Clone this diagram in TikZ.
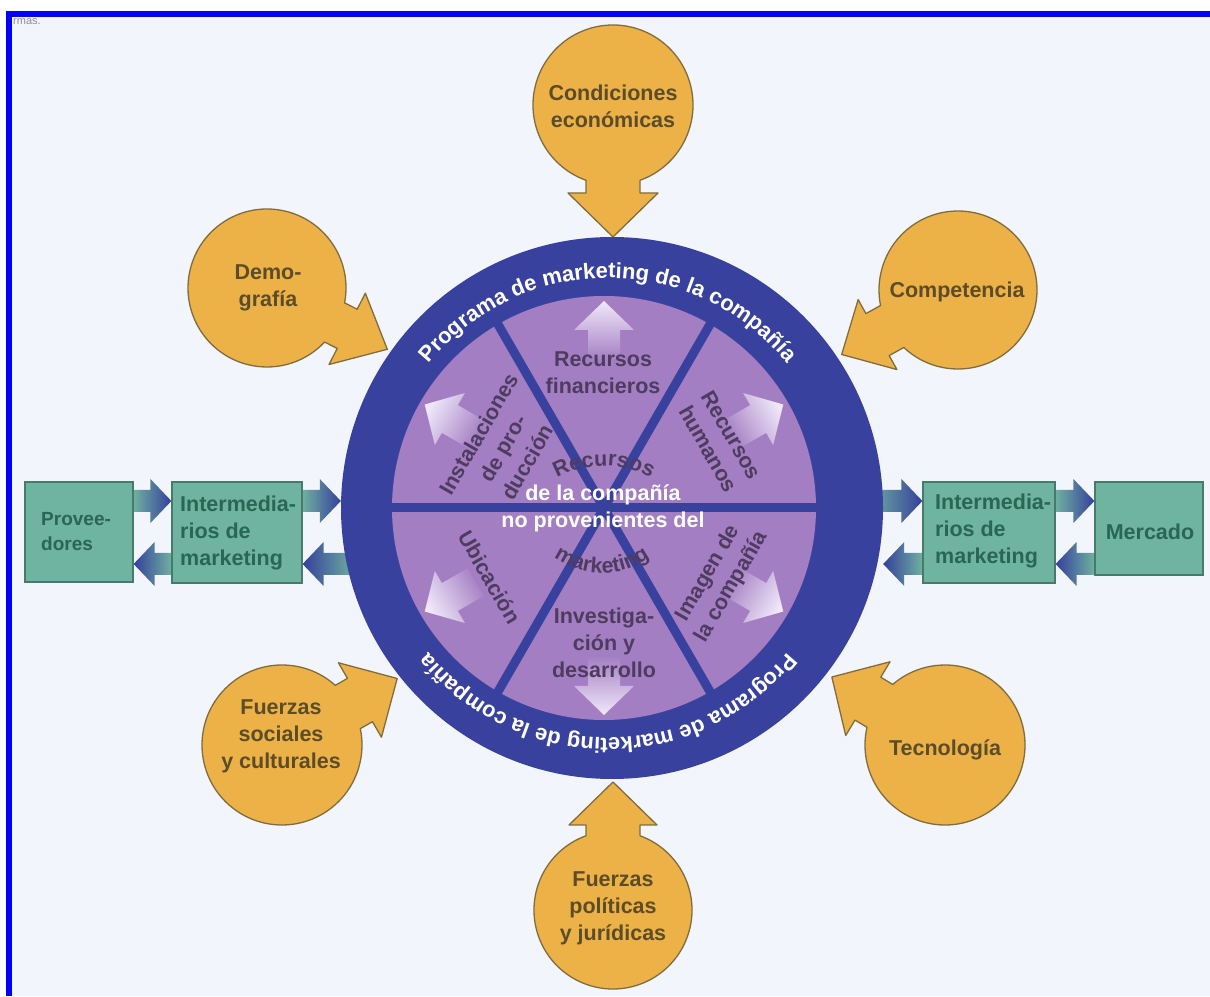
\documentclass[tikz,border=0pt]{standalone}
\usepackage{fontspec}
\setmainfont{Liberation Sans}
\usetikzlibrary{decorations.text,calc}
\definecolor{ringblue}{RGB}{56,66,158}
\definecolor{purp}{RGB}{164,126,194}
\definecolor{purplight}{RGB}{240,232,250}
\definecolor{sectxt}{RGB}{78,60,96}
\definecolor{orng}{RGB}{236,178,72}
\definecolor{orngline}{RGB}{128,108,62}
\definecolor{orngtxt}{RGB}{92,76,40}
\definecolor{gbox}{RGB}{110,180,160}
\definecolor{gboxline}{RGB}{72,122,106}
\definecolor{gtxt}{RGB}{42,102,82}
\definecolor{arrteal}{RGB}{112,176,160}
\definecolor{arrblue}{RGB}{52,64,156}
\definecolor{bgcol}{RGB}{243,245,252}
\definecolor{frameblue}{RGB}{0,0,250}
\pgfdeclarelayer{bglayer}
\pgfdeclarelayer{arrlayer}
\pgfsetlayers{bglayer,arrlayer,main}
\tikzset{
  lbl/.style={font=\bfseries\fontsize{21.5}{27}\selectfont, align=center, inner sep=0pt},
  orlbl/.style={lbl, text=orngtxt},
  seclbl/.style={lbl, text=sectxt},
  whitelbl/.style={lbl, text=white},
  boxlbl/.style={lbl, text=gtxt, align=left, anchor=west},
  greenbox/.style={draw=gboxline, line width=1.2pt, fill=gbox, inner sep=0pt},
  calloutshape/.style={fill=orng, draw=orngline, line width=1.3pt, line join=round},
}
% x y r theta w s h D
\newcommand\orcallout[8]{%
  \begin{scope}[shift={(#1,#2)}, rotate=#4]
    \filldraw[calloutshape] ({sqrt(#3*#3-#5*#5)},#5)
      arc[start angle={asin(#5/#3)}, end angle={360-asin(#5/#3)}, radius=#3pt]
      -- (#6,-#5) -- (#6,-#7) -- (#8,0) -- (#6,#7) -- (#6,#5) -- cycle;
  \end{scope}}
% right-pointing block arrow: tail point, tip point, y
\newcommand\blockR[3]{%
  \shade[left color=arrteal,right color=arrblue] let \p1=(#1), \p2=(#2) in
    (\x1,#3+11) -- (\x2-21,#3+11) -- (\x2-21,#3+22) -- (\x2,#3) --
    (\x2-21,#3-22) -- (\x2-21,#3-11) -- (\x1,#3-11) -- cycle;}
% left-pointing block arrow: tail point, tip point, y
\newcommand\blockL[3]{%
  \shade[left color=arrblue,right color=arrteal] let \p1=(#1), \p2=(#2) in
    (\x1,#3+11) -- (\x2+21,#3+11) -- (\x2+21,#3+22) -- (\x2,#3) --
    (\x2+21,#3-22) -- (\x2+21,#3-11) -- (\x1,#3-11) -- cycle;}
% sector arrow: angle, shading angle
\newcommand\secarrow[2]{%
  \shade[top color=purplight, bottom color=purp, shading angle=#2]
    ($(disc.center)+(#1:148pt)+(#1+90:16pt)$) -- ($(disc.center)+(#1:178pt)+(#1+90:16pt)$) --
    ($(disc.center)+(#1:178pt)+(#1+90:30pt)$) -- ($(disc.center)+(#1:207pt)$) --
    ($(disc.center)+(#1:178pt)+(#1-90:30pt)$) -- ($(disc.center)+(#1:178pt)+(#1-90:16pt)$) --
    ($(disc.center)+(#1:148pt)+(#1-90:16pt)$) -- cycle;}
\begin{document}
\begin{tikzpicture}[x=1pt,y=1pt]
\useasboundingbox (0,0) rectangle (1210,996);
\begin{pgfonlayer}{bglayer}
  \fill[white] (0,0) rectangle (1210,996);
  \fill[bgcol] (12,0) rectangle (1210,979);
  \fill[frameblue] (6,0) rectangle (12,985);
  \fill[frameblue] (6,979) rectangle (1210,985);
\end{pgfonlayer}
\node[anchor=west, text=black!45, font=\fontsize{11}{11}\selectfont, inner sep=0pt] (rmas) at (13,974) {rmas.};

% central wheel
\node[circle, fill=ringblue, minimum size=542pt, inner sep=0pt] (ring) at (612,488) {};
\node[circle, fill=purp, minimum size=424pt, inner sep=0pt] (disc) at (604,488) {};

\secarrow{90}{0}
\secarrow{30}{-60}
\secarrow{150}{60}
\secarrow{210}{120}
\secarrow{270}{180}
\secarrow{330}{240}

\foreach \a in {0,60,120}
  \draw[ringblue, line width=9pt] (disc.center) ++(\a:214pt) -- ++(\a+180:428pt);

% ring texts
\path[decorate, decoration={text along path, text color=white, text align=center,
  text={|\bfseries\fontsize{22}{22}\selectfont|Programa de marketing de la compañía}}]
  (608,488) ++(170:230pt) arc[start angle=170, end angle=10, radius=230pt];
\path[decorate, decoration={text along path, text color=white, text align=center,
  text={|\bfseries\fontsize{22}{22}\selectfont|Programa de marketing de la compañía}}]
  (608,488) ++(-10:230pt) arc[start angle=-10, end angle=-170, radius=230pt];

% center texts
\path[decorate, decoration={text along path, text color=sectxt, text align=center,
  text={|\bfseries\fontsize{21.5}{21.5}\selectfont|Recursos}}]
  (604,434) ++(130:96pt) arc[start angle=130, end angle=50, radius=96pt];
\path[decorate, decoration={text along path, text color=sectxt, text align=center,
  text={|\bfseries\fontsize{21.5}{21.5}\selectfont|marketing}}]
  (602,504) ++(215:81pt) arc[start angle=215, end angle=325, radius=81pt];
\node[whitelbl] (centro) at (603,487.5) {de la compañía\\no provenientes del};

% sector labels
\node[seclbl] (finan) at (603,623) {Recursos\\financieros};
\node[seclbl, rotate=-60] (human) at (720,554) {Recursos\\humanos};
\node[seclbl, rotate=60, font=\bfseries\fontsize{21.5}{28}\selectfont] (insta) at (503,548) {Instalaciones\\de pro-\\ducción};
\node[seclbl, rotate=-60] (ubica) at (490,419) {Ubicación};
\node[seclbl] (inves) at (604,353) {Investiga-\\ción y\\desarrollo};
\node[seclbl, rotate=60] (image) at (720,416) {Imagen de\\la compañía};

% callouts
\orcallout{613}{891}{80}{-90}{27}{88}{45}{132}
\orcallout{267}{708}{79}{-27}{22}{90}{40}{135}
\orcallout{958}{706}{79}{209}{24}{92}{40}{133}
\orcallout{282}{251}{80}{30}{25}{90}{43}{133}
\orcallout{945}{251}{80}{149}{25}{90}{43}{132}
\orcallout{613}{86}{79}{90}{27}{85}{44}{128}
\node[orlbl] (econ) at (613,890) {Condiciones\\económicas};
\node[orlbl] (demo) at (268,708) {Demo-\\grafía};
\node[orlbl] (comp) at (957,704) {Competencia};
\node[orlbl] (soci) at (281,260) {Fuerzas\\sociales\\y culturales};
\node[orlbl] (tecn) at (945,246) {Tecnología};
\node[orlbl] (poli) at (613,88) {Fuerzas\\políticas\\y jurídicas};

% boxes
\node[greenbox, minimum width=108pt, minimum height=100pt] (prov) at (79,464) {};
\node[boxlbl, font=\bfseries\fontsize{19}{25}\selectfont] (provtxt) at (41,464) {Provee-\\dores};
\node[greenbox, minimum width=130pt, minimum height=101pt] (interL) at (237,463.5) {};
\node[boxlbl] (interLtxt) at (180,463.5) {Intermedia-\\rios de\\marketing};
\node[greenbox, minimum width=132pt, minimum height=101pt] (interR) at (989,463.5) {};
\node[boxlbl] (interRtxt) at (935,465) {Intermedia-\\rios de\\marketing};
\node[greenbox, minimum width=108pt, minimum height=93pt] (merc) at (1149,467.5) {};
\node[lbl, text=gtxt] (merctxt) at (1150,464) {Mercado};

% block arrows
\begin{pgfonlayer}{arrlayer}
  \blockR{prov.east}{interL.west}{495}
  \blockL{interL.west}{prov.east}{432}
  \blockR{interL.east}{ring.west}{495}
  \blockL{$(ring.west)+(14,0)$}{interL.east}{432}
  \blockR{$(ring.east)+(-14,0)$}{interR.west}{495}
  \blockL{interR.west}{ring.east}{432}
  \blockR{interR.east}{merc.west}{495}
  \blockL{merc.west}{interR.east}{432}
\end{pgfonlayer}
\end{tikzpicture}
\end{document}
